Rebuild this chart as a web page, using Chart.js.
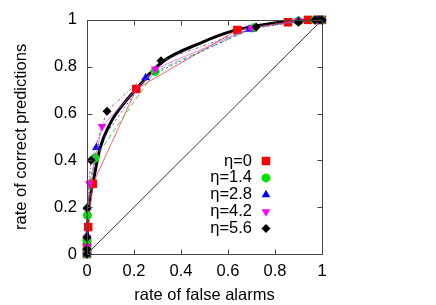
<!DOCTYPE html>
<html>
<head>
<meta charset="utf-8">
<script src="https://cdn.jsdelivr.net/npm/chart.js@4.4.0/dist/chart.umd.min.js"></script>
<style>
  html, body { margin: 0; padding: 0; background: #fff; }
  #wrap { width: 436px; height: 305px; }
</style>
</head>
<body>
<div id="wrap"><canvas id="roc"></canvas></div>
<script>
// --- data ---
const xTickLabels = ['0', '0.2', '0.4', '0.6', '0.8', '1'];
const yTickLabels = ['0', '0.2', '0.4', '0.6', '0.8', '1'];

const etaLabels = ['η=0', 'η=1.4', 'η=2.8', 'η=4.2', 'η=5.6'];

// [false alarm rate, correct prediction rate]
const eta0 = [[0, 0], [0, 0.02], [0, 0.05], [0.005, 0.115], [0.025, 0.30], [0.21, 0.705], [0.64, 0.957], [0.855, 0.99], [0.94, 1], [0.98, 1], [1, 1]];
const eta14 = [[0, 0], [0, 0.02], [0, 0.06], [0.002, 0.165], [0.034, 0.41], [0.29, 0.78], [0.71, 0.966], [0.9, 0.995], [0.97, 1], [1, 1]];
const eta28 = [[0, 0], [0, 0.03], [0, 0.08], [0.002, 0.2], [0.04, 0.455], [0.25, 0.753], [0.69, 0.96], [0.9, 0.995], [0.98, 1], [1, 1]];
const eta42 = [[0, 0], [0, 0.03], [0, 0.07], [0.01, 0.30], [0.064, 0.545], [0.29, 0.79], [0.70, 0.965], [0.9, 0.995], [0.98, 1], [1, 1]];
const eta56 = [[0, 0], [0, 0.02], [0, 0.07], [0, 0.196], [0.017, 0.40], [0.085, 0.61], [0.315, 0.825], [0.72, 0.97], [0.9, 0.99], [0.97, 1], [0.99, 1], [1, 1]];

// thick reference curve
const theoryCurve = [[0, 0], [0.002, 0.1], [0.008, 0.2], [0.025, 0.3], [0.055, 0.45], [0.1, 0.56], [0.15, 0.635], [0.21, 0.705], [0.32, 0.82], [0.48, 0.9], [0.62, 0.953], [0.77, 0.983], [0.9, 0.996], [1, 1]];

const diagonal = [[0, 0], [1, 1]];

// --- styles ---
const FONT = { family: "'Liberation Sans', Arial, sans-serif", size: 16.5 };
const seriesStyle = [
  { color: '#ff0000', line: 'rgba(255,60,60,0.8)', dash: [], point: 'rect', radius: 6, rotation: 0 },
  { color: '#00e000', line: 'rgba(0,220,0,0.8)', dash: [5, 3], point: 'circle', radius: 4.5, rotation: 0 },
  { color: '#0000ff', line: 'rgba(40,40,255,0.8)', dash: [2, 3], point: 'triangle', radius: 5, rotation: 0 },
  { color: '#ff00ff', line: 'rgba(255,60,255,0.7)', dash: [], point: 'triangle', radius: 5, rotation: 180 },
  { color: '#000000', line: 'rgba(90,90,90,0.8)', dash: [3, 2, 1, 2], point: 'rectRot', radius: 4.5, rotation: 0 }
];

const toXY = arr => arr.map(p => ({ x: p[0], y: p[1] }));

const seriesData = [eta0, eta14, eta28, eta42, eta56];
const datasets = seriesData.map((d, i) => ({
  label: etaLabels[i],
  data: toXY(d),
  showLine: true,
  borderColor: seriesStyle[i].line,
  borderWidth: 1,
  borderDash: seriesStyle[i].dash,
  pointStyle: seriesStyle[i].point,
  pointRotation: seriesStyle[i].rotation,
  pointRadius: seriesStyle[i].radius,
  pointBackgroundColor: seriesStyle[i].color,
  pointBorderColor: seriesStyle[i].color,
  pointBorderWidth: 0,
  tension: 0,
  clip: false,
  order: 5 - i
}));

datasets.push({
  label: 'theory',
  data: toXY(theoryCurve),
  showLine: true,
  borderColor: '#000',
  borderWidth: 3,
  pointRadius: 0,
  cubicInterpolationMode: 'monotone',
  clip: false,
  order: 8
});
datasets.push({
  label: 'diagonal',
  data: toXY(diagonal),
  showLine: true,
  borderColor: '#333',
  borderWidth: 1,
  pointRadius: 0,
  clip: false,
  order: 9
});

// frame + inward ticks on all four sides (gnuplot look)
const framePlugin = {
  id: 'frame',
  afterDatasetsDraw(chart) {
    const { ctx, chartArea: a, scales } = chart;
    const L = Math.round(a.left) + 0.5, R = Math.round(a.right) + 0.5;
    const T = Math.round(a.top) + 0.5, B = Math.round(a.bottom) + 0.5;
    ctx.save();
    ctx.strokeStyle = '#444';
    ctx.lineWidth = 1;
    ctx.strokeRect(L, T, R - L, B - T);
    ctx.beginPath();
    const len = 5;
    scales.x.ticks.forEach(t => {
      const px = Math.round(scales.x.getPixelForValue(t.value)) + 0.5;
      ctx.moveTo(px, B); ctx.lineTo(px, B - len);
      ctx.moveTo(px, T); ctx.lineTo(px, T + len);
    });
    scales.y.ticks.forEach(t => {
      const py = Math.round(scales.y.getPixelForValue(t.value)) + 0.5;
      ctx.moveTo(L, py); ctx.lineTo(L + len, py);
      ctx.moveTo(R, py); ctx.lineTo(R - len, py);
    });
    ctx.stroke();
    ctx.restore();
  }
};

// key inside the plot, text right-aligned with symbol after it
const keyPlugin = {
  id: 'key',
  afterDraw(chart) {
    const { ctx } = chart;
    const textRight = 252, symX = 266, y0 = 161, step = 16.9;
    ctx.save();
    ctx.font = FONT.size + 'px ' + FONT.family;
    ctx.textAlign = 'right';
    ctx.textBaseline = 'middle';
    etaLabels.forEach((lab, i) => {
      const y = y0 + i * step;
      ctx.fillStyle = '#000';
      ctx.fillText(lab, textRight, y);
      const s = seriesStyle[i];
      ctx.fillStyle = s.color;
      ctx.strokeStyle = s.color;
      Chart.helpers.drawPoint(ctx, { pointStyle: s.point, rotation: s.rotation, radius: s.radius, borderWidth: 0 }, symX, y);
    });
    ctx.restore();
  }
};

new Chart(document.getElementById('roc'), {
  type: 'scatter',
  data: { datasets },
  options: {
    responsive: true,
    maintainAspectRatio: false,
    animation: false,
    layout: { padding: { left: 0, right: 114, top: 19, bottom: 0 } },
    plugins: { legend: { display: false }, tooltip: { enabled: false } },
    scales: {
      x: {
        type: 'linear', min: 0, max: 1,
        grid: { display: false, drawTicks: false },
        border: { display: false },
        ticks: {
          stepSize: 0.2, padding: 8, color: '#000', font: FONT,
          maxRotation: 0,
          callback: (v, i) => xTickLabels[i]
        },
        title: { display: true, text: 'rate of false alarms', color: '#000', font: FONT, padding: { top: 0, bottom: 0 } },
        afterFit: s => { s.height = 51; }
      },
      y: {
        type: 'linear', min: 0, max: 1,
        grid: { display: false, drawTicks: false },
        border: { display: false },
        ticks: {
          stepSize: 0.2, padding: 10, color: '#000', font: FONT,
          callback: (v, i) => yTickLabels[i]
        },
        title: { display: true, text: 'rate of correct predictions', color: '#000', font: FONT, padding: { top: 12, bottom: 0 } },
        afterFit: s => { s.width = 87; }
      }
    }
  },
  plugins: [framePlugin, keyPlugin]
});
</script>
</body>
</html>
